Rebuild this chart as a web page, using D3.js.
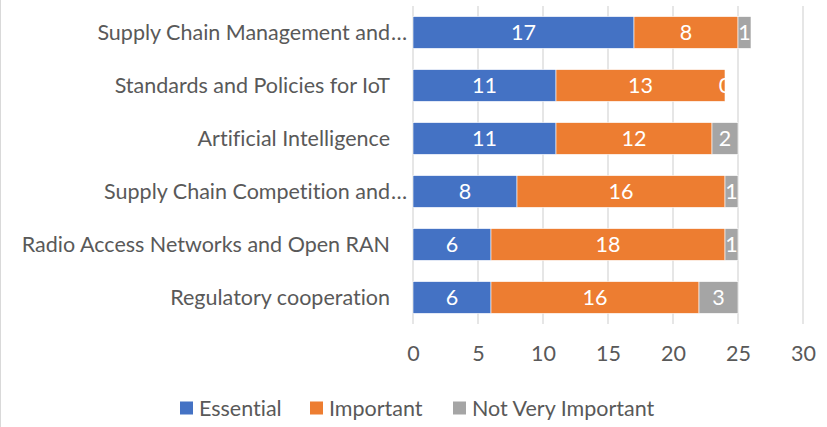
<!DOCTYPE html>
<html>
<head>
<meta charset="utf-8">
<script src="https://cdn.jsdelivr.net/npm/d3@7"></script>
<style>
  body { margin: 0; background: #fff; }
  svg { font-family: Lato, "Open Sans", sans-serif; font-variant-ligatures: none; font-feature-settings: "liga" 0; }
</style>
</head>
<body>
<div id="chart"></div>
<script>
// dades
const categories = [
    "Supply Chain Management and…",
    "Standards and Policies for IoT",
    "Artificial Intelligence",
    "Supply Chain Competition and…",
    "Radio Access Networks and Open RAN",
    "Regulatory cooperation"
];
const seriesNames = ["Essential", "Important", "Not Very Important"];
const essential = [17, 11, 11, 8, 6, 6];
const important = [8, 13, 12, 16, 18, 16];
const notVeryImportant = [1, 0, 2, 1, 1, 3];
const xTicks = [0, 5, 10, 15, 20, 25, 30];

const colors = ["#4472C4", "#ED7D31", "#A5A5A5"];
const fontSize = "21.5px";

const W = 827, H = 427;
const margin = { top: 6, right: 24, bottom: 103, left: 413 };
const width = W - margin.left - margin.right;
const height = H - margin.top - margin.bottom;

const rows = categories.map((c, i) => ({
    cat: c,
    Essential: essential[i],
    Important: important[i],
    "Not Very Important": notVeryImportant[i]
}));

const stacked = d3.stack().keys(seriesNames)(rows);

const svg = d3.select("#chart").append("svg")
    .attr("width", W).attr("height", H);

// vora esquerra
svg.append("line")
    .attr("x1", 0.5).attr("x2", 0.5).attr("y1", 0).attr("y2", H)
    .attr("stroke", "#d9d9d9");

const g = svg.append("g")
    .attr("transform", `translate(${margin.left}, ${margin.top})`);

const x = d3.scaleLinear().domain([0, 30]).range([0, width]);
const y = d3.scaleBand().domain(categories).range([0, height])
    .paddingInner(0.4).paddingOuter(0.2);

// graella
g.selectAll(".grid")
    .data(xTicks)
    .enter().append("line")
        .attr("x1", d => x(d)).attr("x2", d => x(d))
        .attr("y1", 0).attr("y2", height)
        .attr("stroke", "#d9d9d9").attr("stroke-width", 1.3);

// eix x (només etiquetes)
g.append("g")
    .attr("transform", `translate(0, ${height})`)
    .call(d3.axisBottom(x).tickValues(xTicks).tickSize(0).tickPadding(22))
    .call(a => a.select(".domain").remove())
    .selectAll("text")
        .style("font-size", fontSize)
        .style("font-family", "Lato, sans-serif")
        .style("fill", "#595959");

// etiquetes categories
const labels = g.selectAll(".cat")
    .data(categories)
    .enter().append("g")
        .attr("transform", d => `translate(-23, ${y(d) + y.bandwidth() / 2})`);

labels.append("text")
    .attr("text-anchor", "end")
    .attr("dy", "0.35em")
    .style("font-size", fontSize)
    .style("fill", "#595959")
    .text(d => d.replace("…", ""));

labels.filter(d => d.endsWith("…"))
    .append("text")
        .attr("x", 1)
        .attr("dy", "0.35em")
        .style("font-size", fontSize)
        .style("fill", "#595959")
        .text("…");

// barres
const layers = g.selectAll(".layer")
    .data(stacked)
    .enter().append("g")
        .attr("fill", (d, i) => colors[i]);

layers.selectAll("rect")
    .data(d => d)
    .enter().append("rect")
        .attr("x", d => x(d[0]))
        .attr("y", d => y(d.data.cat))
        .attr("width", d => x(d[1]) - x(d[0]))
        .attr("height", y.bandwidth())
        .attr("stroke", "#fff")
        .attr("stroke-width", 0.6);

// valors
layers.selectAll("text")
    .data(d => d.map(v => Object.assign(v, { key: d.key })))
    .enter().append("text")
        .attr("x", d => (x(d[0]) + x(d[1])) / 2)
        .attr("y", d => y(d.data.cat) + y.bandwidth() / 2)
        .attr("dy", "0.35em")
        .attr("text-anchor", "middle")
        .style("font-size", fontSize)
        .style("fill", "#fff")
        .text(d => d.data[d.key]);

// llegenda
const legendX = [180, 310, 453];
const legend = svg.append("g")
    .attr("transform", `translate(0, ${H - 19})`);

const items = legend.selectAll(".item")
    .data(seriesNames)
    .enter().append("g")
        .attr("transform", (d, i) => `translate(${legendX[i]}, 0)`);

items.append("rect")
    .attr("y", -6.5)
    .attr("width", 13).attr("height", 13)
    .attr("fill", (d, i) => colors[i]);

items.append("text")
    .attr("x", 19)
    .attr("dy", "0.35em")
    .style("font-size", fontSize)
    .style("fill", "#595959")
    .text(d => d);
</script>
</body>
</html>
